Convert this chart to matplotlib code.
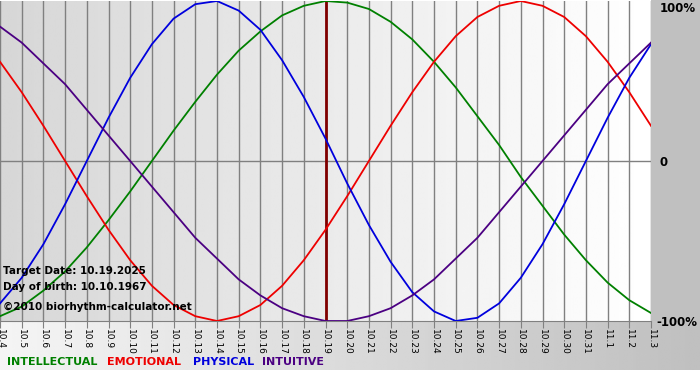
import numpy as np
import matplotlib
matplotlib.use('Agg')
import matplotlib.pyplot as plt

# dagen op de x-as (10.4 t/m 11.3)
days = ['10.4', '10.5', '10.6', '10.7', '10.8', '10.9', '10.10', '10.11', '10.12',
        '10.13', '10.14', '10.15', '10.16', '10.17', '10.18', '10.19', '10.20',
        '10.21', '10.22', '10.23', '10.24', '10.25', '10.26', '10.27', '10.28',
        '10.29', '10.30', '10.31', '11.1', '11.2', '11.3']

# waarden (-1 .. 1)
physical = [-0.89, -0.73, -0.52, -0.27, 0.00, 0.27, 0.52, 0.73, 0.89, 0.98, 1.00,
            0.94, 0.82, 0.63, 0.40, 0.14, -0.14, -0.40, -0.63, -0.82, -0.94, -1.00,
            -0.98, -0.89, -0.73, -0.52, -0.27, 0.00, 0.27, 0.52, 0.73]
emotional = [0.62, 0.43, 0.22, 0.00, -0.22, -0.43, -0.62, -0.78, -0.90, -0.97, -1.00,
             -0.97, -0.90, -0.78, -0.62, -0.43, -0.22, 0.00, 0.22, 0.43, 0.62, 0.78,
             0.90, 0.97, 1.00, 0.97, 0.90, 0.78, 0.62, 0.43, 0.22]
intellectual = [-0.97, -0.91, -0.81, -0.69, -0.54, -0.37, -0.19, 0.00, 0.19, 0.37, 0.54,
                0.69, 0.81, 0.91, 0.97, 1.00, 0.99, 0.95, 0.87, 0.76, 0.62, 0.46,
                0.28, 0.10, -0.10, -0.28, -0.46, -0.62, -0.76, -0.87, -0.95]
intuitive = [0.84, 0.74, 0.61, 0.48, 0.32, 0.16, 0.00, -0.16, -0.32, -0.48, -0.61,
             -0.74, -0.84, -0.92, -0.97, -1.00, -1.00, -0.97, -0.92, -0.84, -0.74, -0.61,
             -0.48, -0.32, -0.16, 0.00, 0.16, 0.32, 0.48, 0.61, 0.74]
target_day = '10.19'

x = np.arange(len(days))

fig = plt.figure(figsize=(7, 3.8), dpi=100)
fig.patch.set_facecolor('white')

# achtergrond in pixels
bg = fig.add_axes([0, 0, 1, 1])
bg.set_xlim(0, 700)
bg.set_ylim(380, 0)
bg.axis('off')
grad = np.linspace(0.96, 0.75, 256).reshape(1, -1)
bg.imshow(grad, cmap='gray', vmin=0, vmax=1, aspect='auto',
          extent=(0, 700, 370, 321), interpolation='bilinear')
bg.add_patch(plt.Rectangle((651, 0), 49, 321, color='#c0c0c0', lw=0))

ax = fig.add_axes([0, (380 - 321) / 380, 651 / 700, 320 / 380])
ax.set_xlim(0, len(days) - 1)
ax.set_ylim(-1, 1)
ax.patch.set_alpha(0)
plotgrad = np.linspace(0.84, 1.0, 256).reshape(1, -1)
ax.imshow(plotgrad, cmap='gray', vmin=0, vmax=1, aspect='auto',
          extent=(0, len(days) - 1, -1, 1), interpolation='bilinear', zorder=0)

for xi in x:
    ax.axvline(xi, color='#808080', lw=1, zorder=1)
ax.axhline(0, color='#808080', lw=1, zorder=1)

ax.plot(x, intellectual, color='#008000', lw=1.3, zorder=3)
ax.plot(x, emotional, color='#ee0000', lw=1.3, zorder=3)
ax.plot(x, physical, color='#0000dd', lw=1.3, zorder=3)
ax.plot(x, intuitive, color='#4b0082', lw=1.3, zorder=3)
ax.axvline(days.index(target_day), color='#800000', lw=2, zorder=2)

for s in ['top', 'left', 'right']:
    ax.spines[s].set_visible(False)
ax.spines['bottom'].set_color('#808080')
ax.set_yticks([])
ax.set_xticks(x)
ax.set_xticklabels(days, rotation=270, fontsize=6.5, family='DejaVu Sans')
ax.tick_params(axis='x', length=5, color='#808080', pad=1)

bold = dict(fontsize=8.5, fontweight='bold', va='center')
fig.text(660 / 700, 1 - 8 / 380, '100%', **bold)
fig.text(660 / 700, 1 - 162 / 380, '0', **bold)
fig.text(656 / 700, 1 - 322 / 380, '-100%', **bold)

info = dict(fontsize=7.5, fontweight='bold', va='center')
fig.text(3 / 700, 1 - 271 / 380, 'Target Date: 10.19.2025', **info)
fig.text(3 / 700, 1 - 287 / 380, 'Day of birth: 10.10.1967', **info)
fig.text(3 / 700, 1 - 307 / 380, '©2010 biorhythm-calculator.net', **info)

leg = dict(fontsize=8, fontweight='bold', va='center')
fig.text(7 / 700, 1 - 362 / 380, 'INTELLECTUAL', color='#008000', **leg)
fig.text(107 / 700, 1 - 362 / 380, 'EMOTIONAL', color='#ee0000', **leg)
fig.text(193 / 700, 1 - 362 / 380, 'PHYSICAL', color='#0000dd', **leg)
fig.text(262 / 700, 1 - 362 / 380, 'INTUITIVE', color='#4b0082', **leg)

fig.savefig('out.png', dpi=100)
